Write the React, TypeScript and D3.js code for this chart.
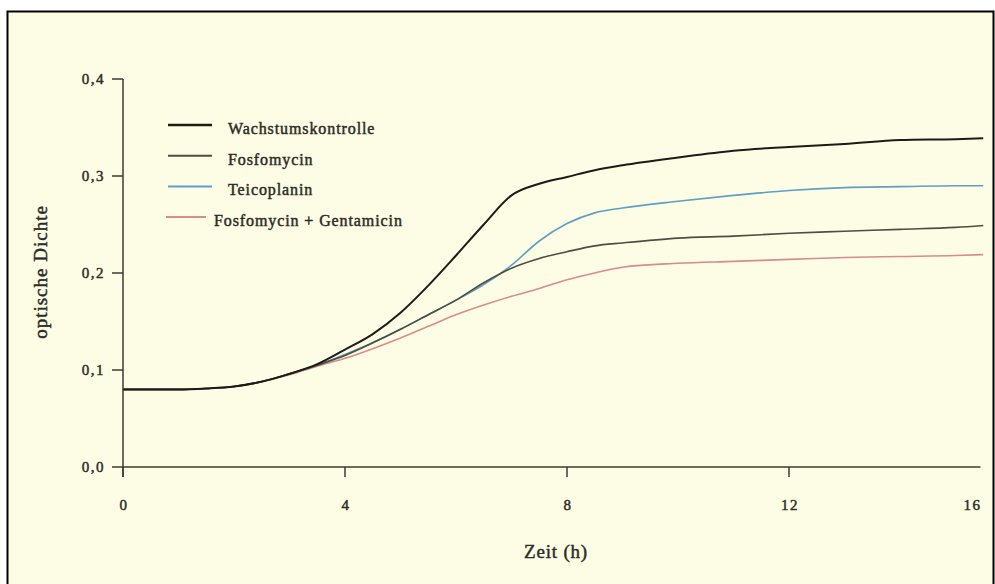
import React, { useEffect, useRef } from "react";
import * as d3 from "d3";

// time in hours
const hours = [0, 1, 1.5, 2, 2.5, 3, 3.5, 4, 4.5, 5, 5.5, 6, 6.5, 7, 7.5, 8, 8.5, 9, 10, 11, 12, 13, 14, 15, 15.5];

const wachstumskontrolle = [0.080, 0.080, 0.081, 0.083, 0.088, 0.096, 0.106, 0.121, 0.137, 0.159, 0.187, 0.218, 0.250, 0.280, 0.292, 0.299, 0.306, 0.311, 0.319, 0.326, 0.330, 0.333, 0.337, 0.338, 0.339];
const fosfomycin = [0.080, 0.080, 0.081, 0.083, 0.088, 0.096, 0.105, 0.115, 0.128, 0.142, 0.157, 0.172, 0.190, 0.205, 0.215, 0.222, 0.228, 0.231, 0.236, 0.238, 0.241, 0.243, 0.245, 0.247, 0.249];
const teicoplanin = [0.080, 0.080, 0.081, 0.083, 0.088, 0.096, 0.105, 0.116, 0.128, 0.142, 0.157, 0.172, 0.188, 0.208, 0.233, 0.251, 0.262, 0.267, 0.274, 0.280, 0.285, 0.288, 0.289, 0.290, 0.290];
const fosfoGenta = [0.080, 0.080, 0.081, 0.083, 0.088, 0.095, 0.104, 0.112, 0.122, 0.133, 0.145, 0.157, 0.167, 0.176, 0.184, 0.193, 0.200, 0.206, 0.210, 0.212, 0.214, 0.216, 0.217, 0.218, 0.219];

const seriesNames = ["Wachstumskontrolle", "Fosfomycin", "Teicoplanin", "Fosfomycin + Gentamicin"];
const seriesValues = [wachstumskontrolle, fosfomycin, teicoplanin, fosfoGenta];
const seriesColors = ["#1c1c17", "#4d4d42", "#5f9fc4", "#d98c88"];

const yTicks = [0, 0.1, 0.2, 0.3, 0.4];
const xTicks = [0, 4, 8, 12];
const xEndLabel = "16";
const xAxisEnd = 15.45;

const W = 995;
const H = 584;

export default function App() {
  const ref = useRef<SVGSVGElement>(null);

  useEffect(() => {
    const svg = d3.select(ref.current);
    svg.selectAll("*").remove();
    const font = "'Liberation Serif', 'Times New Roman', serif";
    const ink = "#2b2b24";

    svg.append("rect").attr("width", W).attr("height", H).attr("fill", "#ffffff");
    svg.append("rect")
      .attr("x", 7.5).attr("y", 11.5)
      .attr("width", 986).attr("height", 600)
      .attr("fill", "#fdfde6")
      .attr("stroke", "#000").attr("stroke-width", 2);

    const x = d3.scaleLinear().domain([0, 4]).range([123, 345]);
    const y = d3.scaleLinear().domain([0, 0.4]).range([467, 79]);

    // text helper, a light stroke to get the heavy look of the scan
    const label = (sel: any, size: number, spacing: number) =>
      sel.attr("font-size", size)
        .attr("letter-spacing", spacing)
        .attr("fill", ink)
        .attr("stroke", ink)
        .attr("stroke-width", 0.45);

    // axes
    const g = svg.append("g").attr("font-family", font);
    g.append("line")
      .attr("x1", x(0)).attr("x2", x(xAxisEnd))
      .attr("y1", y(0)).attr("y2", y(0))
      .attr("stroke", "#3a3a32").attr("stroke-width", 1.5);
    g.append("line")
      .attr("x1", x(0)).attr("x2", x(0))
      .attr("y1", y(0) + 10).attr("y2", y(0.4))
      .attr("stroke", "#3a3a32").attr("stroke-width", 1.5);

    yTicks.forEach((t) => {
      g.append("line")
        .attr("x1", x(0) - 11).attr("x2", x(0))
        .attr("y1", y(t)).attr("y2", y(t))
        .attr("stroke", "#3a3a32").attr("stroke-width", 1.5);
      label(g.append("text"), 15, 1.5)
        .attr("x", x(0) - 18).attr("y", y(t) + 5)
        .attr("text-anchor", "end")
        .text(t.toFixed(1).replace(".", ","));
    });

    xTicks.forEach((t) => {
      g.append("line")
        .attr("x1", x(t)).attr("x2", x(t))
        .attr("y1", y(0)).attr("y2", y(0) + 10)
        .attr("stroke", "#3a3a32").attr("stroke-width", 1.5);
      label(g.append("text"), 15, 1.5)
        .attr("x", x(t) + 1).attr("y", y(0) + 43)
        .attr("text-anchor", "middle")
        .text(String(t));
    });
    label(g.append("text"), 15, 1.5)
      .attr("x", x(xAxisEnd) - 8).attr("y", y(0) + 43)
      .attr("text-anchor", "middle")
      .text(xEndLabel);

    label(g.append("text"), 19, 0.8)
      .attr("x", 556).attr("y", 558)
      .attr("text-anchor", "middle")
      .text("Zeit (h)");

    label(g.append("text"), 19, 1)
      .attr("transform", "translate(47,272) rotate(-90)")
      .attr("text-anchor", "middle")
      .text("optische Dichte");

    // curves
    const line = d3.line<number>()
      .x((d, i) => x(hours[i]))
      .y((d) => y(d))
      .curve(d3.curveMonotoneX);

    [3, 2, 1, 0].forEach((k) => {
      svg.append("path")
        .datum(seriesValues[k])
        .attr("d", line)
        .attr("fill", "none")
        .attr("stroke", seriesColors[k])
        .attr("stroke-width", k === 0 ? 2 : 1.6);
    });

    // legend
    const legend = svg.append("g").attr("font-family", font);
    seriesNames.forEach((name, i) => {
      const ly = 125 + i * 30.7;
      const last = i === seriesNames.length - 1;
      legend.append("line")
        .attr("x1", last ? 166 : 168).attr("x2", last ? 206 : 212)
        .attr("y1", ly).attr("y2", ly)
        .attr("stroke", seriesColors[i])
        .attr("stroke-width", i === 0 ? 2.5 : 2);
      label(legend.append("text"), 16, 0.9)
        .attr("x", last ? 214 : 228).attr("y", ly + 9)
        .text(name);
    });
  }, []);

  return (
    <svg
      ref={ref}
      width={W}
      height={H}
      style={{ position: "fixed", left: 0, top: 0 }}
    />
  );
}
